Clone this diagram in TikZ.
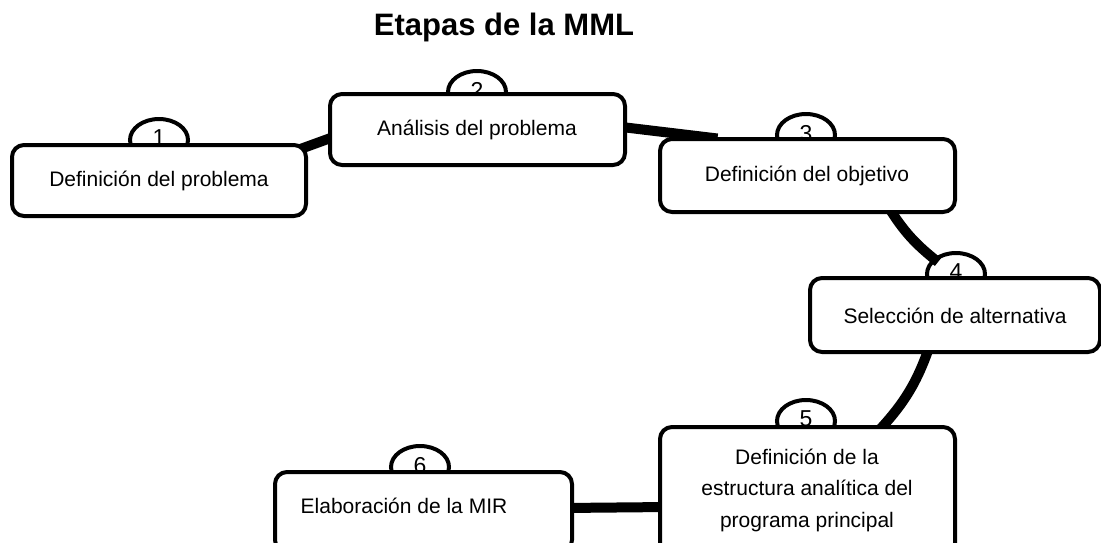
\documentclass[tikz,border=0pt]{standalone}
\usepackage{fontspec}
\setmainfont{Liberation Sans}
\usetikzlibrary{shapes.geometric,calc}
\newcommand\stagenum[1]{\raisebox{4pt}{#1}}
\begin{document}
\begin{tikzpicture}[x=1pt,y=-1pt,
  stage/.style={draw=black,fill=white,line width=4pt,rounded corners=12pt,minimum height=#1,inner sep=0pt},
  num/.style={ellipse,draw=black,fill=white,line width=4pt,minimum width=58pt,minimum height=42pt,inner sep=0pt,font=\fontsize{23}{25}\selectfont,text depth=0pt},
  lbl/.style={font=\fontsize{21}{31.5}\selectfont,align=center},
  link/.style={line width=10pt,black}]
\useasboundingbox (0,0) rectangle (1101,542);
% ellipses (drawn first, partly covered by boxes)
\node[num] (e1) at (159,140) {\stagenum{1}};
\node[num] (e2) at (477,92) {\stagenum{2}};
\node[num] (e3) at (806,135) {\stagenum{3}};
\node[num] (e4) at (956,274) {\stagenum{4}};
\node[num] (e5) at (806,421) {\stagenum{5}};
\node[num] (e6) at (420,467) {\stagenum{6}};
% box centres
\coordinate (b1c) at (159,180.5);
\coordinate (b2c) at (477.5,129.5);
\coordinate (b3c) at (807.5,175.5);
\coordinate (b4c) at (955,315);
\coordinate (b5c) at (807.5,490);
\coordinate (b6c) at (423.5,510);
% connectors
\draw[link] ($(b1c)+(140,-31)$) coordinate (c1a) -- ($(b2c)+(-140,6)$) coordinate (c2a);
\draw[link] ($(b2c)+(140,-3)$) coordinate (c2b) -- ($(b3c)+(-90,-37)$) coordinate (c3a);
\draw[link] ($(b3c)+(80,30)$) coordinate (c3b) to[bend right=10] ($(e4.center)+(-18,-12)$) coordinate (c4a);
\draw[link] ($(b4c)+(-25,30)$) coordinate (c4b) to[bend left=12] ($(b5c)+(70,-58)$) coordinate (c5a);
\draw[link] ($(b5c)+(-140,17)$) coordinate (c5b) -- ($(b6c)+(140,-2)$) coordinate (c6a);
% boxes
\node[stage=71pt,minimum width=294pt] (b1) at (b1c) {};
\node[stage=71pt,minimum width=295pt] (b2) at (b2c) {};
\node[stage=73pt,minimum width=295pt] (b3) at (b3c) {};
\node[stage=74pt,minimum width=290pt] (b4) at (b4c) {};
\node[stage=130pt,minimum width=295pt] (b5) at (807.5,492) {};
\node[stage=80pt,minimum width=297pt] (b6) at (423.5,512) {};
% labels
\node[lbl] (t1) at (159,181) {Definición del problema};
\node[lbl] (t2) at (477,130) {Análisis del problema};
\node[lbl] (t3) at (807,176) {Definición del objetivo};
\node[lbl] (t4) at (955,316) {Selección de alternativa};
\node[lbl] (t5) at (807,490) {Definición de la\\estructura analítica del\\programa principal};
\node[lbl] (t6) at (404,506) {Elaboración de la MIR};
\node[font=\bfseries\fontsize{31}{34}\selectfont] (title) at (504,27) {Etapas de la MML};
\end{tikzpicture}
\end{document}
